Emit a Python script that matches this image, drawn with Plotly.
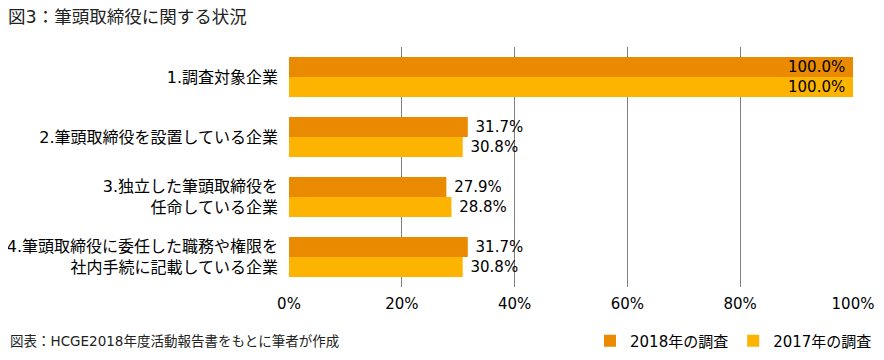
import plotly.graph_objects as go

categories = [
    "1.調査対象企業",
    "2.筆頭取締役を設置している企業",
    "3.独立した筆頭取締役を<br>任命している企業",
    "4.筆頭取締役に委任した職務や権限を<br>社内手続に記載している企業",
]
series_2018 = [100.0, 31.7, 27.9, 31.7]
series_2017 = [100.0, 30.8, 28.8, 30.8]
names = ["2018年の調査", "2017年の調査"]
colors = ["#E98A00", "#FDB400"]
tick_vals = [0, 20, 40, 60, 80, 100]
tick_text = ["0%", "20%", "40%", "60%", "80%", "100%"]

FONT = "DejaVu Sans, Noto Sans CJK JP, sans-serif"
NB = "\u00a0"

# The page body has an 8px default margin, so the figure is 8px smaller
W, H = 876, 352

fig = go.Figure()
for name, vals, col in zip(names, [series_2018, series_2017], colors):
    inside = [v >= 90 for v in vals]
    fig.add_trace(go.Bar(
        y=categories, x=vals, name=name, orientation="h",
        marker=dict(color=col, line=dict(width=0)),
        text=[(f"{v:.1f}%" + NB) if ins else (NB + f"{v:.1f}%")
              for v, ins in zip(vals, inside)],
        textposition=["inside" if ins else "outside" for ins in inside],
        insidetextanchor="end",
        textfont=dict(size=15, color="#000000", family=FONT),
        constraintext="none",
        cliponaxis=False,
    ))

fig.update_layout(
    width=W, height=H,
    margin=dict(l=281, r=31, t=39, b=73, autoexpand=False),
    paper_bgcolor="white", plot_bgcolor="white",
    barmode="group", bargap=1/3, bargroupgap=0,
    font=dict(family=FONT, size=14, color="#000000"),
    showlegend=True,
    legend=dict(orientation="h", xref="container", yref="container",
                x=582/W, y=1 - 333/H, xanchor="left", yanchor="middle",
                font=dict(size=15, color="#000000", family=FONT),
                traceorder="normal", itemwidth=30),
    title=dict(text="図3：筆頭取締役に関する状況", x=0, xanchor="left",
               y=1 - 9/H, yanchor="middle",
               font=dict(size=17.5, color="#222222", family=FONT)),
    annotations=[dict(text="図表：HCGE2018年度活動報告書をもとに筆者が作成",
                      xref="paper", yref="paper", x=-281/564, y=-54/240,
                      xanchor="left", yanchor="middle", showarrow=False,
                      font=dict(size=13.5, color="#222222", family=FONT))],
)
fig.update_xaxes(range=[0, 100], tickvals=tick_vals, ticktext=tick_text,
                 showgrid=True, gridcolor="#808080", gridwidth=1,
                 zeroline=False, showline=False, ticks="",
                 ticklabelstandoff=6,
                 tickfont=dict(size=15, color="#000000"))
fig.update_yaxes(autorange="reversed", showgrid=False, zeroline=False,
                 showline=False, ticks="", ticklabelstandoff=10,
                 tickfont=dict(size=16, color="#000000"))

fig.write_html("out.html")
